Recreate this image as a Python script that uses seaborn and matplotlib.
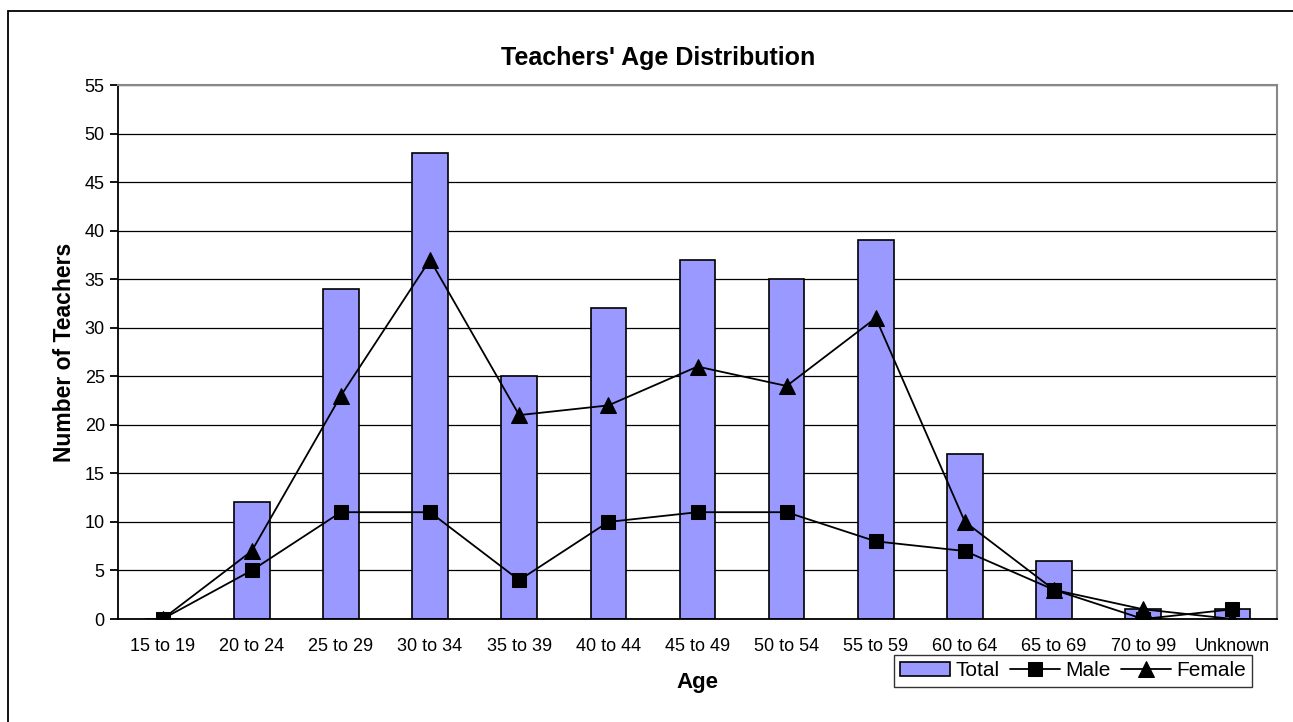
import seaborn as sns
import pandas as pd
import matplotlib.pyplot as plt
from matplotlib.patches import Rectangle

ages = ["15 to 19", "20 to 24", "25 to 29", "30 to 34", "35 to 39", "40 to 44", "45 to 49",
        "50 to 54", "55 to 59", "60 to 64", "65 to 69", "70 to 99", "Unknown"]
total = [0, 12, 34, 48, 25, 32, 37, 35, 39, 17, 6, 1, 1]
male = [0, 5, 11, 11, 4, 10, 11, 11, 8, 7, 3, 0, 1]
female = [0, 7, 23, 37, 21, 22, 26, 24, 31, 10, 3, 1, 0]

df = pd.DataFrame({"Age": ages, "Total": total, "Male": male, "Female": female})

sns.set_style("white")
plt.rcParams['font.family'] = ['Liberation Sans', 'DejaVu Sans']
plt.rcParams.update({"text.color": "black", "axes.labelcolor": "black",
                     "xtick.color": "black", "ytick.color": "black"})

fig = plt.figure(figsize=(12.93, 7.22), dpi=100)
ax = fig.add_axes([118 / 1293, 1 - 619 / 722, (1277 - 118) / 1293, (619 - 85) / 722])

# outer chart border
fig.patches.append(Rectangle((8 / 1293, -0.05), 1.1, 1 - 11 / 722 + 0.05, transform=fig.transFigure,
                             fill=False, edgecolor="black", linewidth=1.3))

ax.set_axisbelow(True)
ax.yaxis.grid(True, color="black", linewidth=0.9)
sns.barplot(data=df, x="Age", y="Total", color="#9999FF", edgecolor="black", linewidth=1.2,
            width=0.4, saturation=1, ax=ax, label="Total", zorder=2)
sns.lineplot(data=df, x="Age", y="Female", color="black", marker="^", markersize=12, linewidth=1.3,
             markeredgecolor="black", sort=False, ax=ax, label="Female", zorder=3)
sns.lineplot(data=df, x="Age", y="Male", color="black", marker="s", markersize=10.5, linewidth=1.3,
             markeredgecolor="black", sort=False, ax=ax, label="Male", zorder=4)

ax.set_xlim(-0.5, len(ages) - 0.5)
ax.set_ylim(0, 55)
ax.set_yticks(range(0, 56, 5))
ax.set_xticks([i - 0.5 for i in range(len(ages) + 1)], minor=True)
ax.tick_params(axis="x", which="major", length=0, labelsize=13, pad=14)
ax.tick_params(axis="x", which="minor", length=6, width=1.3, color="black", direction="out")
ax.tick_params(axis="y", length=6, width=1.3, color="black", direction="out", labelsize=13, left=True)

for s in ["left", "bottom"]:
    ax.spines[s].set_color("black")
    ax.spines[s].set_linewidth(1.3)
for s in ["right", "top"]:
    ax.spines[s].set_color("#888888")
    ax.spines[s].set_linewidth(1.5)

fig.text(658 / 1293, 1 - 58 / 722, "Teachers' Age Distribution", fontsize=18, fontweight="bold",
         ha="center", va="center")
ax.set_xlabel("Age", fontsize=16, fontweight="bold", labelpad=12)
ax.set_ylabel("Number of Teachers", fontsize=16.5, fontweight="bold", labelpad=6)

handles, labels = ax.get_legend_handles_labels()
order = [labels.index(n) for n in ["Total", "Male", "Female"]]
leg = ax.legend([handles[i] for i in order], [labels[i] for i in order], ncol=3,
                loc="upper right", bbox_to_anchor=(1252 / 1293, 1 - 655 / 722),
                bbox_transform=fig.transFigure, frameon=True, fancybox=False,
                fontsize=15, handlelength=2.4, handletextpad=0.25, columnspacing=0.5,
                borderpad=0.3, borderaxespad=0)
leg.get_frame().set_edgecolor("black")
leg.get_frame().set_linewidth(1.0)

fig.savefig("out.png", dpi=100)
